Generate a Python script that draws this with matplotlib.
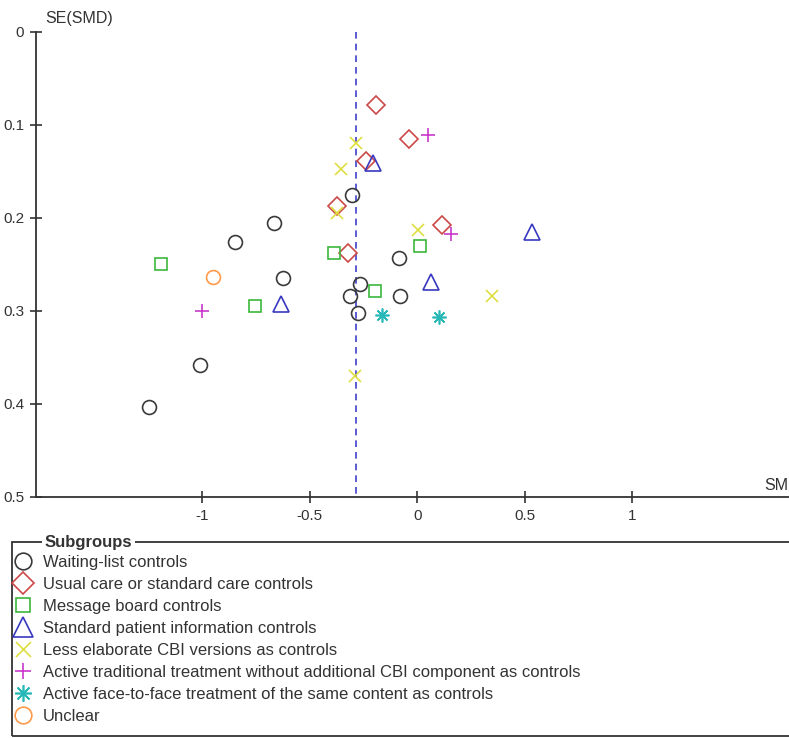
import matplotlib.pyplot as plt
from matplotlib.patches import Rectangle

plt.rcParams['font.family'] = ['Liberation Sans', 'DejaVu Sans']

# SMD (x) and SE(SMD) (y) per subgroup
waiting_x = [-1.250, -1.012, -0.849, -0.666, -0.624, -0.306, -0.267, -0.314, -0.275, -0.087, -0.081]
waiting_y = [0.403, 0.358, 0.226, 0.206, 0.265, 0.176, 0.271, 0.284, 0.302, 0.243, 0.284]
usual_x = [-0.193, -0.041, -0.240, -0.376, -0.322, 0.113]
usual_y = [0.079, 0.115, 0.139, 0.187, 0.238, 0.208]
board_x = [-1.194, -0.757, -0.388, -0.196, 0.012]
board_y = [0.250, 0.295, 0.238, 0.279, 0.230]
info_x = [-0.209, -0.635, 0.061, 0.533]
info_y = [0.141, 0.293, 0.269, 0.215]
less_x = [-0.286, -0.357, -0.376, 0.004, 0.347, -0.291]
less_y = [0.120, 0.148, 0.195, 0.213, 0.284, 0.370]
trad_x = [0.049, 0.154, -1.004]
trad_y = [0.111, 0.217, 0.300]
face_x = [-0.167, 0.101]
face_y = [0.305, 0.307]
unclear_x = [-0.953]
unclear_y = [0.264]
pooled_smd = -0.285

x_ticks = [-1, -0.5, 0, 0.5, 1]
y_ticks = [0, 0.1, 0.2, 0.3, 0.4, 0.5]

groups = [
    (waiting_x, waiting_y, 'Waiting-list controls', 'o', '#3a3a3a', 10),
    (usual_x, usual_y, 'Usual care or standard care controls', 'D', '#cc4848', 9.5),
    (board_x, board_y, 'Message board controls', 's', '#3cb83c', 8.5),
    (info_x, info_y, 'Standard patient information controls', '^', '#3838c0', 11.5),
    (less_x, less_y, 'Less elaborate CBI versions as controls', 'x', '#dede40', 9),
    (trad_x, trad_y, 'Active traditional treatment without additional CBI component as controls', '+', '#c838c8', 10),
    (face_x, face_y, 'Active face-to-face treatment of the same content as controls', (8, 2, 0), '#28b8b8', 10),
    (unclear_x, unclear_y, 'Unclear', 'o', '#ff9a4a', 10),
]

W, H = 789, 738
fig = plt.figure(figsize=(W / 100, H / 100), dpi=100)
ax = fig.add_axes([36 / W, 241 / H, 1 - 36 / W, (706.5 - 241) / H])

ax.plot([pooled_smd, pooled_smd], [0, 0.5], color='#4040cc', lw=1.2,
        dashes=(4, 3), zorder=1)

handles = []
for xs, ys, label, marker, color, ms in groups:
    h, = ax.plot(xs, ys, linestyle='none', marker=marker, ms=ms,
                 mfc='none', mec=color, mew=1.2, label=label, zorder=3)
    handles.append(h)

ax.set_xlim(-1.774, 1.728)
ax.set_ylim(0.5, 0)
ax.set_xticks(x_ticks)
ax.set_xticklabels(['-1', '-0.5', '0', '0.5', '1'])
ax.set_yticks(y_ticks)
ax.set_yticklabels(['0', '0.1', '0.2', '0.3', '0.4', '0.5'])
for s in ['top', 'right']:
    ax.spines[s].set_visible(False)
for s in ['left', 'bottom']:
    ax.spines[s].set_color('#333333')
    ax.spines[s].set_linewidth(1.3)
ax.tick_params(direction='inout', length=9, width=1.2, color='#333333',
               labelsize=11, labelcolor='#333333')
ax.tick_params(axis='y', pad=4)
ax.tick_params(axis='x', pad=4)
ax.patch.set_visible(False)

fig.text(45 / W, 1 - 19 / H, 'SE(SMD)', fontsize=11.5, color='#333333',
         va='center', ha='left')
fig.text(788 / W, 1 - 485 / H, 'SM', fontsize=11.5, color='#333333',
         va='center', ha='right')

# legend frame running off the right edge
fig.patches.append(Rectangle((12 / W, 2 / H), 1, (736 - 542) / H,
                             transform=fig.transFigure, fill=False,
                             edgecolor='#333333', lw=1.3))
fig.text(45 / W, 1 - 542 / H, 'Subgroups', fontsize=12, fontweight='bold',
         color='#333333', va='center', ha='left',
         bbox=dict(facecolor='white', edgecolor='none', pad=2))
fig.legend(handles=handles, loc='upper left', bbox_to_anchor=(14.7 / W, 1 - 555 / H),
           frameon=False, fontsize=12, handlelength=1.0, handletextpad=0.7,
           labelspacing=0.42, borderaxespad=0, borderpad=0, markerscale=1.2,
           labelcolor='#333333')

fig.savefig('out.png', dpi=100)
